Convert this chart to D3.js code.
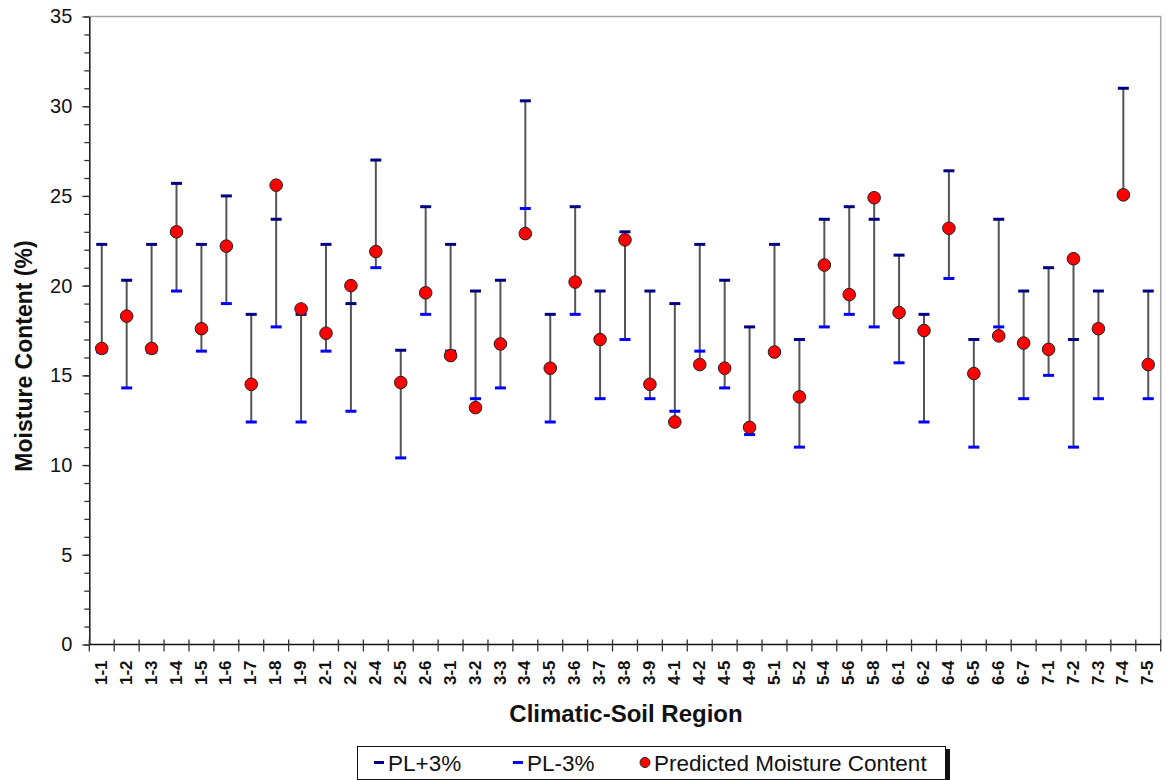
<!DOCTYPE html>
<html>
<head>
<meta charset="utf-8">
<script src="https://cdn.jsdelivr.net/npm/d3@7"></script>
<style>
  body { margin: 0; background: #fff; }
  svg text { font-family: "Liberation Sans", Arial, sans-serif; }
</style>
</head>
<body>
<div id="chart"></div>
<script>
// Climatic-soil regions
const regions = ["1-1","1-2","1-3","1-4","1-5","1-6","1-7","1-8","1-9",
    "2-1","2-2","2-4","2-5","2-6",
    "3-1","3-2","3-3","3-4","3-5","3-6","3-7","3-8","3-9",
    "4-1","4-2","4-5","4-9",
    "5-1","5-2","5-4","5-6","5-8",
    "6-1","6-2","6-4","6-5","6-6","6-7",
    "7-1","7-2","7-3","7-4","7-5"];

// PL+3%
const plPlus = [22.3, 20.3, 22.3, 25.7, 22.3, 25.0, 18.4, 23.7, 18.4,
    22.3, 19.0, 27.0, 16.4, 24.4,
    22.3, 19.7, 20.3, 30.3, 18.4, 24.4, 19.7, 23.0, 19.7,
    19.0, 22.3, 20.3, 17.7,
    22.3, 17.0, 23.7, 24.4, 23.7,
    21.7, 18.4, 26.4, 17.0, 23.7, 19.7,
    21.0, 17.0, 19.7, 31.0, 19.7];

// PL-3%
const plMinus = [16.3, 14.3, 16.3, 19.7, 16.35, 19.0, 12.4, 17.7, 12.4,
    16.35, 13.0, 21.0, 10.4, 18.4,
    16.35, 13.7, 14.3, 24.3, 12.4, 18.4, 13.7, 17.0, 13.7,
    13.0, 16.35, 14.3, 11.7,
    16.3, 11.0, 17.7, 18.4, 17.7,
    15.7, 12.4, 20.4, 11.0, 17.7, 13.7,
    15.0, 11.0, 13.7, 25.0, 13.7];

// Predicted moisture content
const predicted = [16.5, 18.3, 16.5, 23.0, 17.6, 22.2, 14.5, 25.6, 18.7,
    17.35, 20.0, 21.9, 14.6, 19.6,
    16.1, 13.2, 16.75, 22.9, 15.4, 20.2, 17.0, 22.55, 14.5,
    12.4, 15.6, 15.4, 12.1,
    16.3, 13.8, 21.15, 19.5, 24.9,
    18.5, 17.5, 23.2, 15.1, 17.2, 16.8,
    16.45, 21.5, 17.6, 25.06, 15.6];

const yMajor = [0, 5, 10, 15, 20, 25, 30, 35];

const data = regions.map((r, i) => ({
    region: r, hi: plPlus[i], lo: plMinus[i], mc: predicted[i]
}));

const width = 1169, height = 780;
const margin = { top: 16.5, right: 8.3, bottom: 135.5, left: 89.3 };

const svg = d3.select('#chart')
    .append('svg')
    .attr('width', width)
    .attr('height', height)
    .style('background', '#fff');

const xScale = d3.scaleBand()
    .domain(regions)
    .range([margin.left, width - margin.right]);

const yScale = d3.scaleLinear()
    .domain([0, 35])
    .range([height - margin.bottom, margin.top]);

const x0 = margin.left, x1 = width - margin.right;
const y0 = yScale(0), y1 = yScale(35);

// plot frame (top and right in grey)
svg.append('path')
    .attr('d', `M${x0},${y1}H${x1}V${y0}`)
    .attr('fill', 'none')
    .attr('stroke', '#a6a6a6')
    .attr('stroke-width', 1.5);

// minor ticks on y
svg.append('g')
    .attr('transform', `translate(${x0},0)`)
    .call(d3.axisLeft(yScale).tickValues(d3.range(0, 36, 1)).tickSize(5).tickFormat(''))
    .call(g => g.select('.domain').remove())
    .call(g => g.selectAll('line').attr('stroke', '#333').attr('stroke-width', 1.3));

// major ticks + labels on y
svg.append('g')
    .attr('transform', `translate(${x0},0)`)
    .call(d3.axisLeft(yScale).tickValues(yMajor).tickSize(7).tickSizeOuter(0).tickPadding(10))
    .call(g => g.select('.domain').attr('stroke', '#222').attr('stroke-width', 1.6))
    .call(g => g.selectAll('line').attr('stroke', '#333').attr('stroke-width', 1.3))
    .call(g => g.selectAll('text')
        .attr('font-size', '20px')
        .attr('fill', '#111')
        .style('font-family', '"Liberation Sans", Arial, sans-serif'));

// x axis line
svg.append('line')
    .attr('x1', x0).attr('x2', x1)
    .attr('y1', y0).attr('y2', y0)
    .attr('stroke', '#111')
    .attr('stroke-width', 1.6);

// x ticks at category boundaries, crossing the axis
const bounds = regions.map(r => xScale(r)).concat([x1]);
svg.append('g')
    .selectAll('line')
    .data(bounds)
    .enter()
    .append('line')
    .attr('x1', d => d).attr('x2', d => d)
    .attr('y1', y0 - 5).attr('y2', y0 + 7)
    .attr('stroke', '#333')
    .attr('stroke-width', 1.3);

// x tick labels (rotated)
svg.append('g')
    .selectAll('text')
    .data(regions)
    .enter()
    .append('text')
    .attr('transform', d => `translate(${xScale(d) + xScale.bandwidth() / 2 - 1},${y0 + 16}) rotate(-90)`)
    .attr('text-anchor', 'end')
    .attr('dy', '0.36em')
    .attr('font-size', '17px')
    .attr('font-weight', 'bold')
    .attr('fill', '#111')
    .text(d => d);

const cx = d => xScale(d.region) + xScale.bandwidth() / 2;

// high-low lines
svg.append('g')
    .selectAll('line')
    .data(data)
    .enter()
    .append('line')
    .attr('x1', cx).attr('x2', cx)
    .attr('y1', d => yScale(Math.max(d.hi, d.lo, d.mc)))
    .attr('y2', d => yScale(Math.min(d.hi, d.lo, d.mc)))
    .attr('stroke', '#555')
    .attr('stroke-width', 2);

// PL+3% dashes
svg.append('g')
    .selectAll('line')
    .data(data)
    .enter()
    .append('line')
    .attr('x1', d => cx(d) - 5.5).attr('x2', d => cx(d) + 5.5)
    .attr('y1', d => yScale(d.hi)).attr('y2', d => yScale(d.hi))
    .attr('stroke', '#000080')
    .attr('stroke-width', 3);

// PL-3% dashes
svg.append('g')
    .selectAll('line')
    .data(data)
    .enter()
    .append('line')
    .attr('x1', d => cx(d) - 5.5).attr('x2', d => cx(d) + 5.5)
    .attr('y1', d => yScale(d.lo)).attr('y2', d => yScale(d.lo))
    .attr('stroke', '#0000ff')
    .attr('stroke-width', 3);

// predicted moisture content points
svg.append('g')
    .selectAll('circle')
    .data(data)
    .enter()
    .append('circle')
    .attr('cx', cx)
    .attr('cy', d => yScale(d.mc))
    .attr('r', 6.3)
    .attr('fill', '#ff0000')
    .attr('stroke', '#222')
    .attr('stroke-width', 1);

// y-axis label
svg.append('text')
    .attr('transform', `translate(32,${356}) rotate(-90)`)
    .attr('text-anchor', 'middle')
    .attr('font-size', '23px')
    .attr('font-weight', 'bold')
    .attr('fill', '#111')
    .text('Moisture Content (%)');

// x-axis label
svg.append('text')
    .attr('x', 626)
    .attr('y', 722)
    .attr('text-anchor', 'middle')
    .attr('font-size', '24px')
    .attr('font-weight', 'bold')
    .attr('fill', '#111')
    .text('Climatic-Soil Region');

// legend
const legend = svg.append('g');
legend.append('rect')
    .attr('x', 360).attr('y', 749)
    .attr('width', 590).attr('height', 34)
    .attr('fill', '#111');
legend.append('rect')
    .attr('x', 357.5).attr('y', 746.5)
    .attr('width', 588).attr('height', 33)
    .attr('fill', '#fff')
    .attr('stroke', '#111')
    .attr('stroke-width', 1);

const legendItems = [
    { label: 'PL+3%', type: 'dash', color: '#000080', x: 374 },
    { label: 'PL-3%', type: 'dash', color: '#0000ff', x: 513 },
    { label: 'Predicted Moisture Content', type: 'dot', color: '#ff0000', x: 640 }
];
const ly = 762.5;
legendItems.forEach(item => {
    if (item.type === 'dash') {
        legend.append('line')
            .attr('x1', item.x).attr('x2', item.x + 10)
            .attr('y1', ly).attr('y2', ly)
            .attr('stroke', item.color)
            .attr('stroke-width', 3);
    } else {
        legend.append('circle')
            .attr('cx', item.x + 5).attr('cy', ly)
            .attr('r', 5)
            .attr('fill', item.color)
            .attr('stroke', '#222')
            .attr('stroke-width', 1);
    }
    legend.append('text')
        .attr('x', item.x + 14)
        .attr('y', ly)
        .attr('dy', '0.36em')
        .attr('font-size', '22.5px')
        .attr('fill', '#111')
        .text(item.label);
});
</script>
</body>
</html>
